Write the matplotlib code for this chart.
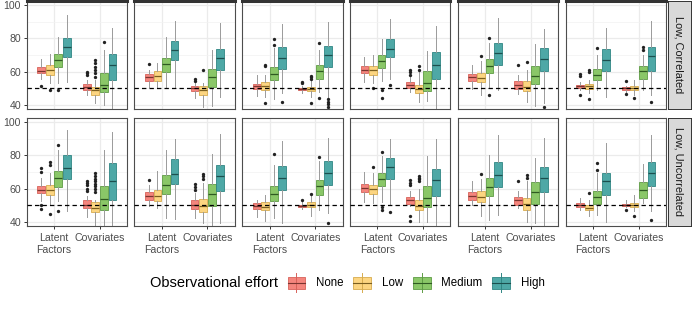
import matplotlib
matplotlib.use("Agg")
import matplotlib.pyplot as plt
from matplotlib.patches import Rectangle
from matplotlib.lines import Line2D

plt.rcParams['font.family'] = ['Liberation Sans', 'DejaVu Sans']

# ---------------- data ----------------
groups = ["Latent\nFactors", "Covariates"]
efforts = ["None", "Low", "Medium", "High"]
row_labels = ["Low, Correlated", "Low, Uncorrelated"]
legend_title = "Observational effort"
yticks = [40, 60, 80, 100]

# order of boxes within a panel: LF None, LF Low, LF Medium, LF High, Cov None, Cov Low, Cov Medium, Cov High
top_q1 = [
    [59.0, 58.2, 62.6, 68.7, 48.7, 46.0, 47.5, 54.7],
    [54.5, 54.1, 59.6, 66.7, 48.1, 45.7, 50.7, 61.2],
    [49.5, 49.1, 55.2, 61.8, 48.7, 48.1, 55.8, 62.6],
    [59.2, 58.2, 62.2, 68.7, 50.1, 47.1, 48.1, 55.6],
    [54.5, 53.7, 59.2, 63.8, 49.7, 48.1, 52.5, 60.2],
    [50.1, 49.5, 54.7, 60.2, 49.1, 48.7, 55.8, 60.2],
]
top_med = [
    [60.6, 61.0, 66.9, 75.0, 50.5, 48.7, 52.0, 64.2],
    [56.6, 57.6, 64.6, 72.9, 49.9, 48.7, 56.8, 68.3],
    [51.1, 51.5, 58.8, 68.3, 49.5, 49.5, 60.2, 69.9],
    [61.2, 60.8, 66.3, 73.9, 52.1, 49.7, 53.1, 64.2],
    [56.8, 56.2, 63.2, 71.3, 52.1, 50.5, 57.6, 67.7],
    [51.1, 51.1, 58.2, 66.9, 49.9, 50.1, 60.2, 69.3],
]
top_q3 = [
    [62.6, 63.8, 70.7, 80.0, 52.3, 51.0, 59.2, 70.9],
    [58.8, 60.6, 68.3, 78.2, 51.5, 51.1, 61.6, 73.9],
    [52.5, 53.7, 62.8, 74.7, 50.1, 50.7, 63.8, 75.4],
    [63.2, 63.2, 69.9, 79.4, 53.5, 52.1, 60.2, 71.9],
    [58.8, 59.2, 67.3, 77.4, 54.5, 54.1, 63.6, 74.3],
    [52.1, 52.5, 61.8, 73.9, 50.7, 51.5, 63.2, 74.9],
]
top_lo = [
    [55.6, 53.1, 53.0, 53.5, 46.0, 41.0, 40.0, 37.0],
    [50.7, 50.1, 50.0, 50.0, 44.0, 39.0, 39.4, 45.0],
    [45.5, 45.0, 43.6, 47.0, 47.0, 45.0, 48.0, 45.0],
    [53.5, 53.1, 54.1, 55.6, 48.0, 42.0, 42.6, 37.0],
    [49.5, 46.0, 50.1, 49.1, 46.5, 42.0, 39.4, 41.0],
    [49.0, 47.0, 49.1, 44.6, 48.0, 46.0, 49.1, 46.0],
]
top_hi = [
    [67.3, 70.9, 81.0, 94.3, 55.0, 55.0, 73.3, 86.5],
    [61.2, 65.3, 81.0, 90.5, 53.1, 53.1, 73.3, 89.0],
    [58.2, 58.0, 74.3, 88.5, 51.1, 55.0, 73.3, 90.1],
    [68.7, 69.7, 79.4, 91.9, 57.2, 60.0, 72.3, 87.5],
    [64.2, 66.3, 77.4, 92.5, 58.2, 61.2, 76.4, 85.9],
    [53.5, 55.2, 70.3, 86.5, 51.5, 55.2, 70.0, 90.5],
]
top_fliers = [
    [[51.5], [49.0], [49.0], [], [58.0, 59.0, 60.0], [57.0, 59.0, 61.0, 63.0, 65.0, 67.0], [77.8], []],
    [[64.6], [], [], [], [54.5, 55.6], [60.8], [], []],
    [[], [63.4, 64.2, 41.0], [75.8, 79.8], [42.0], [53.0, 54.0], [55.6, 56.6, 57.6, 41.0], [77.4, 44.4], [43.6, 42.0, 40.6, 39.0]],
    [[], [50.1], [49.0, 44.0], [52.1], [58.2, 59.8, 61.2], [61.2, 63.2], [], []],
    [[], [69.3], [80.4, 45.7], [], [64.2], [65.9], [], [38.6]],
    [[57.6, 58.8, 46.0], [59.6, 61.2, 43.4], [74.3], [], [54.1, 46.5], [44.0], [72.9, 74.9], [42.0]],
]

bot_q1 = [
    [57.3, 56.3, 61.0, 66.0, 48.3, 45.7, 47.3, 53.3],
    [52.9, 52.3, 56.7, 63.0, 47.9, 45.7, 49.3, 58.4],
    [47.7, 46.9, 52.3, 59.0, 48.9, 48.7, 56.3, 62.4],
    [57.7, 56.7, 61.8, 65.8, 50.9, 47.3, 48.9, 55.7],
    [53.3, 51.7, 55.7, 61.0, 50.3, 46.9, 50.9, 57.7],
    [48.7, 47.3, 50.9, 56.3, 49.3, 48.7, 54.3, 61.8],
]
bot_med = [
    [59.4, 59.4, 66.4, 72.4, 50.3, 48.3, 53.7, 64.4],
    [55.3, 55.7, 62.4, 69.0, 50.3, 49.3, 56.9, 67.4],
    [49.3, 48.9, 56.9, 66.4, 49.7, 49.9, 61.4, 69.4],
    [60.4, 59.8, 65.8, 72.8, 52.9, 49.7, 54.3, 65.0],
    [55.7, 54.9, 61.0, 68.0, 52.9, 50.9, 57.7, 66.4],
    [50.3, 48.3, 54.9, 64.4, 50.3, 50.3, 59.4, 69.4],
]
bot_q3 = [
    [61.8, 62.4, 70.8, 80.5, 52.9, 51.7, 61.4, 75.5],
    [57.7, 59.4, 68.0, 77.9, 53.3, 53.7, 63.0, 74.4],
    [51.3, 51.7, 61.8, 73.8, 50.3, 51.7, 65.4, 76.5],
    [63.0, 62.4, 69.4, 78.5, 54.9, 52.9, 61.4, 71.8],
    [57.7, 58.4, 66.4, 75.9, 54.9, 54.3, 63.8, 73.0],
    [51.3, 50.3, 58.8, 69.4, 50.9, 51.3, 63.8, 76.1],
]
bot_lo = [
    [52.3, 50.3, 52.3, 46.3, 42.9, 38.0, 38.0, 38.0],
    [49.3, 48.3, 42.3, 41.6, 42.3, 39.2, 38.0, 39.2],
    [42.9, 40.6, 42.3, 39.2, 47.7, 43.7, 47.3, 45.3],
    [51.7, 51.3, 52.0, 50.3, 49.3, 40.2, 40.2, 38.0],
    [50.3, 43.7, 41.2, 44.3, 48.3, 40.2, 39.2, 38.0],
    [47.3, 43.7, 44.3, 40.2, 48.7, 46.3, 51.3, 46.3],
]
bot_hi = [
    [66.4, 69.4, 83.5, 95.2, 55.3, 53.3, 83.5, 94.0],
    [62.4, 70.4, 83.1, 89.9, 57.3, 63.4, 80.9, 92.6],
    [53.3, 56.3, 74.4, 88.5, 51.7, 55.7, 76.5, 90.5],
    [69.8, 69.4, 79.5, 89.9, 58.4, 59.8, 79.5, 89.9],
    [64.8, 66.0, 80.5, 92.0, 58.4, 64.4, 78.5, 90.5],
    [54.3, 53.3, 69.5, 87.5, 52.9, 56.3, 74.8, 92.0],
]
bot_fliers = [
    [[70.0, 72.4, 50.3, 47.9], [74.5, 75.9, 44.9], [86.1, 46.3], [], [58.4, 60.0, 62.0, 63.5, 64.8],
     [57.7, 59.5, 61.5, 63.0, 64.5, 66.0, 67.5, 69.4], [], []],
    [[65.4], [], [], [], [59.0, 61.0, 63.0], [66.0, 67.4, 68.8], [], []],
    [[], [], [80.9], [], [53.3], [56.7], [78.9], [39.6]],
    [[], [73.0], [81.9, 48.9, 47.3], [45.7], [62.4, 63.5, 65.4, 43.7, 40.6], [64.4, 65.5, 66.5, 67.4], [], []],
    [[], [68.8], [], [], [64.8], [66.4, 68.0], [], []],
    [[], [57.3], [71.4, 75.5], [], [47.3], [43.7], [], [41.2]],
]

# ---------------- style ----------------
fills = ["#F4857D", "#FCD581", "#8AC768", "#4EA8A6"]
edges = ["#D8625A", "#D7AC4E", "#5E9C44", "#2F8684"]
meds = ["#7a3530", "#7a5e20", "#2f5a22", "#1c4f4e"]
whisk = "#9a9a9a"

W, H = 698, 309
fig = plt.figure(figsize=(W / 100, H / 100), dpi=100)


def fax(l, t, w, h):
    return fig.add_axes([l / W, 1 - (t + h) / H, w / W, h / H])


row_tops = [1.0, 118.0]
ph = 108.0
pw = 100.5
lefts = [26.5 + i * 107.8 for i in range(6)]
offs = [-0.28125, -0.09375, 0.09375, 0.28125]

rows_data = [
    (top_q1, top_med, top_q3, top_lo, top_hi, top_fliers),
    (bot_q1, bot_med, bot_q3, bot_lo, bot_hi, bot_fliers),
]

for r in range(2):
    q1s, medss, q3s, los, his, fls = rows_data[r]
    for c in range(6):
        ax = fax(lefts[c], row_tops[r], pw, ph)
        ax.set_xlim(0.4, 2.6)
        ax.set_ylim(37.5, 102.5)
        ax.set_yticks(yticks)
        ax.set_yticks([50, 70, 90], minor=True)
        ax.set_xticks([1, 2])
        ax.grid(which='major', color='#ebebeb', lw=0.9)
        ax.grid(which='minor', axis='y', color='#f2f2f2', lw=0.5)
        ax.set_axisbelow(True)
        for s in ax.spines.values():
            s.set_color('#4d4d4d')
            s.set_linewidth(0.8)
        if r == 0:
            ax.spines['top'].set_linewidth(2.2)
            ax.spines['top'].set_color('#333333')
        stats = []
        positions = []
        for k in range(8):
            g = k // 4
            e = k % 4
            stats.append(dict(med=medss[c][k], q1=q1s[c][k], q3=q3s[c][k],
                              whislo=los[c][k], whishi=his[c][k], fliers=fls[c][k]))
            positions.append(1 + g + offs[e])
        bp = ax.bxp(stats, positions=positions, widths=0.17, patch_artist=True,
                    showcaps=False, manage_ticks=False,
                    whiskerprops=dict(color=whisk, lw=0.7),
                    flierprops=dict(marker='o', markerfacecolor='#222222',
                                    markeredgecolor='none', markersize=2.4),
                    medianprops=dict(lw=0.9))
        for k in range(8):
            e = k % 4
            bp['boxes'][k].set_facecolor(fills[e])
            bp['boxes'][k].set_edgecolor(edges[e])
            bp['boxes'][k].set_linewidth(0.6)
            bp['medians'][k].set_color(meds[e])
            bp['boxes'][k].set_zorder(2)
            bp['medians'][k].set_zorder(2.5)
        ax.axhline(50, color='black', lw=0.9, ls=(0, (3.5, 2.5)), zorder=4)
        ax.tick_params(which='both', color='#333333', length=2.5, width=0.7,
                       labelsize=7.6, labelcolor='#4d4d4d', pad=1.5)
        ax.tick_params(which='minor', length=0)
        if c == 0:
            ax.set_yticklabels([str(v) for v in yticks])
        else:
            ax.tick_params(axis='y', which='major', left=False, labelleft=False)
        if r == 1:
            ax.set_xticklabels(groups, linespacing=1.25)
            ax.tick_params(axis='x', pad=2.5)
        else:
            ax.tick_params(axis='x', bottom=False, labelbottom=False)

    # strip
    sax = fax(667.5, row_tops[r], 23, ph)
    sax.set_facecolor('#d9d9d9')
    sax.set_xticks([])
    sax.set_yticks([])
    for s in sax.spines.values():
        s.set_color('#333333')
        s.set_linewidth(0.7)
    sax.text(0.5, 0.5, row_labels[r], rotation=-90, ha='center', va='center',
             fontsize=7.9, color='#1a1a1a', transform=sax.transAxes)

# legend drawn in pixel coordinates
lax = fig.add_axes([0, 0, 1, 1])
lax.set_xlim(0, W)
lax.set_ylim(H, 0)
lax.axis('off')
lax.text(150, 283, legend_title, fontsize=10.5, ha='left', va='center', color='black')
key_x = [287.5, 353.0, 413.0, 492.0]
lab_x = [316.0, 382.0, 441.0, 521.0]
for e in range(4):
    x0 = key_x[e]
    lax.add_line(Line2D([x0 + 8.75, x0 + 8.75], [272.5, 292], color=edges[e], lw=0.7))
    lax.add_patch(Rectangle((x0, 277), 17.5, 12, facecolor=fills[e], edgecolor=edges[e], lw=0.6))
    lax.add_line(Line2D([x0, x0 + 17.5], [283, 283], color=meds[e], lw=0.8))
    lax.text(lab_x[e], 283, efforts[e], fontsize=8.3, ha='left', va='center', color='black')

fig.savefig("out.png", dpi=100)
